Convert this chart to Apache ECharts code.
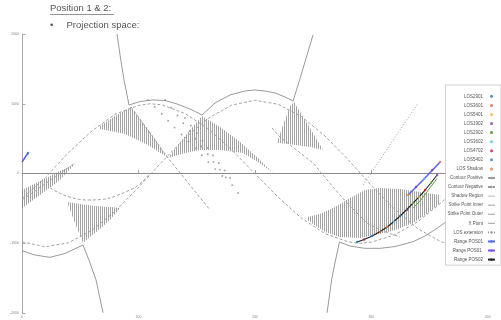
<!DOCTYPE html>
<html><head><meta charset="utf-8">
<script src="https://cdn.jsdelivr.net/npm/echarts@6/dist/echarts.min.js"></script>
<style>html,body{margin:0;padding:0;background:#fff}#c{width:501px;height:320px}</style>
</head><body><div id="c"></div>
<script>
const FONT = '"Liberation Sans", Arial, sans-serif';
const xTicks = [0, 100, 200, 300, 400];
const yTicks = [-2000, -1000, 0, 1000, 2000];

// Contour Positive (solid)
const contourUpper = [[81.6,2000],[84.2,1699],[87.6,1341],[91.9,982],[101.4,1032],[112.5,1054],[122.8,1047],[133.1,997],[144.3,925],[154.6,839],[165.8,1011],[178.7,1126],[191.5,1183],[200.1,1197],[208.7,1183],[217.3,1155],[225.9,1097],[232.8,1039],[239.7,1412],[244.8,1699],[250,1990]];
const contourLowerLeft = [[0,-1107],[11.2,-1169],[24,-1202],[36.9,-1147],[52.4,-1025],[57.5,-1240],[63.6,-1527],[69.6,-1996]];
const contourLowerRight = [[262,-1996],[266,-1513],[269.3,-1240],[272.7,-982],[281.7,-1040],[294.6,-1073],[307.5,-1073],[320.4,-1047],[335.8,-978],[346.1,-896],[356.4,-786],[367.6,-652]];

// Contour Negative (dashed)
const negD1 = [[0,-360],[20,-60],[40,300],[60,610],[80,850],[100,975],[110,1000],[120,985],[140,860],[160,640],[180,340],[200,0],[220,-340],[240,-640],[260,-860],[280,-980],[290,-1000],[300,-985],[320,-880],[340,-690],[360,-420],[380,-80]];
const negD2 = [[0,-980],[20,-1050],[40,-993],[60,-816],[80,-541],[100,-200],[120,164],[140,509],[160,792],[180,980],[200,1050],[220,993],[240,816],[260,541],[280,200],[300,-172],[320,-509],[340,-792],[360,-980],[380,-1050]];
const negD3 = [[214.7,652],[221.6,523],[250,150],[267.1,-194],[279.2,-423],[296.4,-710],[307.5,-810],[324.7,-911]];
const negLeft = [[0,-380],[45.5,151]];
const negU = [[24.1,-208],[55.8,-380],[92.8,-237],[110,7]];
const negMid = [[93.6,954],[125.4,222],[161.5,-523]];

// Shadow Region polygons
const shadowH1 = [[0,-237],[15.5,-108],[32.6,36],[45.5,136],[32.6,-93],[15.5,-308],[0,-495]];
const shadowH2 = [[67,681],[79.9,825],[93.6,954],[110,595],[125.4,222],[108.2,409],[88.5,566],[67,638]];
const shadowH3 = [[125.4,222],[140,538],[154.6,825],[170.1,667],[187.3,452],[202.7,222],[215.6,7],[202.7,165],[189.8,294],[170.1,337],[152.9,337],[140,294]];
const shadowH4 = [[219,437],[224.2,695],[230.2,968],[233.6,1025],[238.8,882],[247.4,652],[258.5,337],[247.4,380],[234.5,409],[221.6,437]];
const shadowH5 = [[244.8,-624],[256,-581],[268.9,-480],[281.7,-351],[294.6,-237],[307.5,-208],[324.7,-222],[341.9,-265],[359.1,-308],[359.1,-423],[346.2,-595],[335.9,-710],[320.4,-810],[307.5,-868],[290.3,-925],[273.1,-911],[260.3,-839],[244.8,-667]];
const shadowH6 = [[38.7,-409],[49.8,-437],[62.7,-466],[75.6,-480],[84.2,-495],[75.6,-667],[67,-796],[58.4,-911],[52.4,-997],[47.2,-781],[42.9,-595]];
const shadowRegions = [shadowH1, shadowH2, shadowH3, shadowH4, shadowH5, shadowH6];

// Gray marker rows
const strikeInner = [[108,1054],[114,955],[120,856],[125.5,757],[131,658],[137,559],[143,459],[149,360],[154.5,261],[160,162],[166,63],[172,-36]];
const strikeOuter = [[123,1054],[128,943],[133.5,832],[138.5,721],[144,610],[149,499],[154,388],[159.5,277],[164.5,166],[170,55],[175,-56],[180.5,-167],[185.5,-280]];
const xPoint = [[140,796],[145,688],[150,580],[155,473],[159.5,365],[164,258],[169,150],[174,43],[178.7,-65]];
const losExtension = [[292.9,-165],[340.2,1011]];

// LOS ranges
const rangePos01 = [[331.6,-308],[345.3,-79],[359.1,165]];
const rangePos01Wrap = [[0,165],[5.2,294]];
const rangePos02 = [[287.8,-982],[300.7,-896],[313.5,-767],[324.7,-609],[335.9,-423],[346.2,-237],[356.5,-22]];
const los2902Line = [[336,-490],[341.9,-394],[356.5,-70]];

// LOS markers
const los2901Pts = [[287.8,-982],[324.7,-609],[5.2,294]];
const los3601Pts = [[307.5,-839]];
const los5401Pts = [[341,-337]];
const los1902Pts = [[330.7,-523],[356.5,-22],[338.4,-194],[352.2,50]];
const los2902Pts = [[335.9,-423],[351.3,-136]];
const los3602Pts = [[319.5,-695],[345.3,-79]];
const los4702Pts = [[293.8,-946],[346.2,-237]];
const los5402Pts = [[300.7,-896]];
const losShadowPts = [[313.5,-767],[331.6,-308],[359.1,165]];

const losNames = ['LOS2901','LOS3601','LOS5401','LOS1902','LOS2902','LOS3602','LOS4702','LOS5402','LOS Shadow'];
const losColors = ['#1f77b4','#e4572e','#f2b134','#7e3fa0','#6bb33f','#4cc3f0','#c0183c','#1e7be0','#f07838'];
const losPts = [los2901Pts,los3601Pts,los5401Pts,los1902Pts,los2902Pts,los3602Pts,los4702Pts,los5402Pts,losShadowPts];

const pat = document.createElement('canvas');
pat.width = 2; pat.height = 2;
const pg = pat.getContext('2d');
pg.fillStyle = 'rgba(120,120,120,0.68)';
pg.fillRect(0, 0, 1, 2);

const GRAY = '#9a9a9a';
function lineS(name, data, color, width, type, extra) {
  return Object.assign({ type: 'line', name, data, showSymbol: false, symbol: 'none', z: 3,
    lineStyle: { color, width, type }, itemStyle: { color }, silent: true }, extra || {});
}
function dotS(name, data, color, size, z) {
  return { type: 'scatter', name, data, symbolSize: size, z: z || 4, itemStyle: { color }, silent: true };
}

const series = [];
series.push({
  type: 'custom', name: 'Shadow Region', z: 1, silent: true,
  itemStyle: { color: '#bdbdbd' },
  data: shadowRegions.map((p, i) => [p[0][0], p[0][1], i]),
  renderItem: function (params, api) {
    const poly = shadowRegions[api.value(2)];
    return { type: 'polygon', shape: { points: poly.map(pt => api.coord(pt)) },
      style: { fill: { image: pat, repeat: 'repeat' }, stroke: null } };
  }
});
series.push(lineS('', [[0,0],[410,0]], '#8a8a8a', 1, 'solid', { z: 2 }));
series.push(lineS('Contour Positive', contourUpper, GRAY, 1, 'solid'));
series.push(lineS('Contour Positive', contourLowerLeft, GRAY, 1, 'solid'));
series.push(lineS('Contour Positive', contourLowerRight, GRAY, 1, 'solid'));
[negD1, negD2, negD3, negLeft, negMid].forEach(d => series.push(lineS('Contour Negative', d, GRAY, 0.9, [3, 2])));
series.push(lineS('Contour Negative', negU, GRAY, 0.9, [3, 2], { smooth: true }));
series.push(dotS('Strike Point Inner', strikeInner, '#8c8c8c', 1.9, 3));
series.push(dotS('Strike Point Outer', strikeOuter, '#8c8c8c', 1.9, 3));
series.push(dotS('X Point', xPoint, '#8c8c8c', 1.9, 3));
series.push(lineS('LOS extension', losExtension, '#999', 1, [1, 2]));
series.push(lineS('Range POS01', rangePos01, '#4f6cf5', 1.5, 'solid', { z: 4 }));
series.push(lineS('Range POS01', rangePos01Wrap, '#4f6cf5', 1.5, 'solid', { z: 4 }));
series.push(lineS('Range POS01 ', rangePos01, '#7a4ff0', 0.7, 'solid', { z: 4 }));
series.push(lineS('Range POS01 ', rangePos01Wrap, '#7a4ff0', 0.7, 'solid', { z: 4 }));
series.push(lineS('Range POS02', rangePos02, '#222', 1.1, 'solid', { z: 4, smooth: 0.3 }));
series.push(lineS('LOS2902', los2902Line, '#5aa83a', 1, 'solid', { z: 4 }));
losNames.forEach((n, i) => series.push(dotS(n, losPts[i], losColors[i], 2.5, 6)));

const dashIcon = 'path://M0,0H8V1.2H0Z';
const legendData = losNames.map(n => ({ name: n, icon: 'circle' })).concat([
  { name: 'Contour Positive' },
  { name: 'Contour Negative' },
  { name: 'Shadow Region', icon: dashIcon },
  { name: 'Strike Point Inner', icon: dashIcon },
  { name: 'Strike Point Outer', icon: dashIcon },
  { name: 'X Point', icon: dashIcon },
  { name: 'LOS extension' },
  { name: 'Range POS01' },
  { name: 'Range POS01 ' },
  { name: 'Range POS02' }
]);

const axisCommon = {
  type: 'value',
  axisLine: { show: true, lineStyle: { color: '#aaa', width: 1 } },
  axisTick: { show: true, inside: true, length: 3.5, lineStyle: { color: '#aaa' } },
  splitLine: { show: false },
  axisLabel: { fontSize: 3.5, color: '#888', fontFamily: FONT, formatter: v => String(v) }
};

const chart = echarts.init(document.getElementById('c'), null, { renderer: 'canvas' });
chart.setOption({
  animation: false,
  backgroundColor: '#fff',
  textStyle: { fontFamily: FONT },
  grid: { left: 22, right: 1.6, top: 34, bottom: 7, containLabel: false, outerBoundsMode: 'none' },
  xAxis: Object.assign({}, axisCommon, {
    min: 0, max: 410, interval: 100,
    axisTick: Object.assign({}, axisCommon.axisTick, { customValues: xTicks }),
    axisLabel: Object.assign({}, axisCommon.axisLabel, { margin: 2, customValues: xTicks })
  }),
  yAxis: Object.assign({}, axisCommon, {
    min: -2000, max: 2000, interval: 1000,
    axisTick: Object.assign({}, axisCommon.axisTick, { customValues: yTicks }),
    axisLabel: Object.assign({}, axisCommon.axisLabel, { margin: 3, customValues: yTicks })
  }),
  legend: {
    orient: 'vertical', right: 0, top: 85, align: 'right',
    padding: [6.8, 5, 1, 2], itemWidth: 7, itemHeight: 3, itemGap: 0,
    backgroundColor: '#fff', borderColor: '#bbb', borderWidth: 0.7,
    selectedMode: false,
    textStyle: { fontSize: 4.5, color: '#555', lineHeight: 9.07, fontFamily: FONT },
    data: legendData
  },
  graphic: [
    { type: 'text', left: 50, top: 3.5, style: { text: 'Position 1 & 2:', font: '9.5px ' + FONT, fill: '#555' } },
    { type: 'line', shape: { x1: 50, y1: 14.5, x2: 114, y2: 14.5 }, style: { stroke: '#777', lineWidth: 0.8 } },
    { type: 'text', left: 50, top: 20, style: { text: '\u2022', font: '9.5px ' + FONT, fill: '#555' } },
    { type: 'text', left: 66.5, top: 20, style: { text: 'Projection space:', font: '9.5px ' + FONT, fill: '#555' } }
  ],
  series: series
});
</script>
</body></html>
